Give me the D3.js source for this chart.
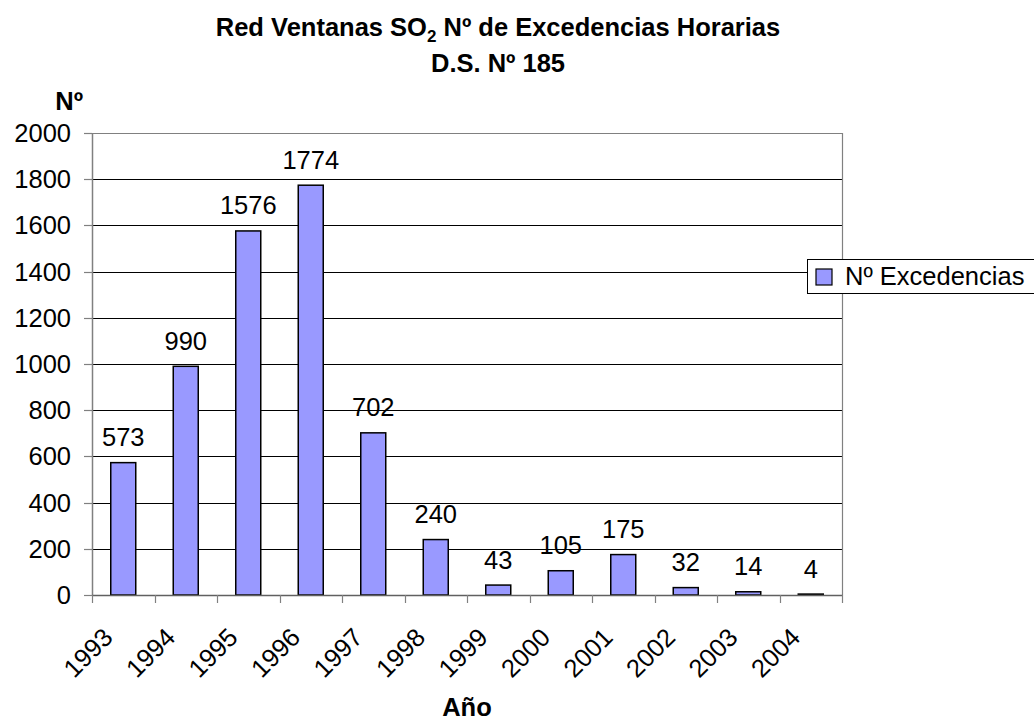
<!DOCTYPE html>
<html>
<head>
<meta charset="utf-8">
<script src="https://cdn.jsdelivr.net/npm/d3@7"></script>
<style>
  body { margin: 0; background: #fff; }
  svg text { font-family: "Liberation Sans", Arial, sans-serif; fill: #000; }
</style>
</head>
<body>
<div id="chart"></div>
<script>
// data
var years = ["1993", "1994", "1995", "1996", "1997", "1998", "1999", "2000", "2001", "2002", "2003", "2004"];
var excedencias = [573, 990, 1576, 1774, 702, 240, 43, 105, 175, 32, 14, 4];
var yTicks = [0, 200, 400, 600, 800, 1000, 1200, 1400, 1600, 1800, 2000];
var seriesName = "Nº Excedencias";

var width = 1034, height = 722;
var margin = {top: 133, right: 192, bottom: 127, left: 92};
var fontSize = 25.5;

var svg = d3.select("#chart").append("svg")
    .attr("width", width)
    .attr("height", height);

var data = years.map(function (y, i) { return {year: y, value: excedencias[i]}; });

var x = d3.scaleBand()
    .domain(years)
    .range([margin.left, width - margin.right])
    .paddingInner(0.6)
    .paddingOuter(0.3);

var y = d3.scaleLinear()
    .domain([0, 2000])
    .range([height - margin.bottom, margin.top]);

var x0 = margin.left, x1 = width - margin.right;
var yBottom = y(0), yTop = y(2000);

// gridlines
svg.append("g")
    .selectAll("line")
    .data(yTicks.filter(function (d) { return d > 0; }))
    .enter()
    .append("line")
    .attr("x1", x0)
    .attr("x2", x1)
    .attr("y1", function (d) { return Math.round(y(d)) + 0.5; })
    .attr("y2", function (d) { return Math.round(y(d)) + 0.5; })
    .attr("stroke", "#000")
    .attr("stroke-width", 1);

// plot border (top/right gray)
svg.append("path")
    .attr("d", "M" + x0 + "," + (Math.round(yTop) + 0.5) + "H" + (x1 + 0.5) + "V" + yBottom)
    .attr("fill", "none")
    .attr("stroke", "#808080")
    .attr("stroke-width", 1.2);

// bars
svg.append("g")
    .selectAll("rect")
    .data(data)
    .enter()
    .append("rect")
    .attr("x", function (d) { return x(d.year); })
    .attr("y", function (d) { return y(d.value); })
    .attr("width", x.bandwidth())
    .attr("height", function (d) { return yBottom - y(d.value); })
    .attr("fill", "#9999FF")
    .attr("stroke", "#000")
    .attr("stroke-width", 1.5);

// data labels
svg.append("g")
    .selectAll("text")
    .data(data)
    .enter()
    .append("text")
    .attr("x", function (d) { return x(d.year) + x.bandwidth() / 2; })
    .attr("y", function (d) { return y(d.value) - 16.5; })
    .attr("text-anchor", "middle")
    .style("font-size", fontSize + "px")
    .text(function (d) { return d.value; });

// y axis
var yAxis = svg.append("g");
yAxis.append("line")
    .attr("x1", x0 + 0.5).attr("x2", x0 + 0.5)
    .attr("y1", yTop).attr("y2", yBottom)
    .attr("stroke", "#808080").attr("stroke-width", 1.5);
yAxis.selectAll(".tick")
    .data(yTicks)
    .enter()
    .append("line")
    .attr("x1", x0 - 8).attr("x2", x0)
    .attr("y1", function (d) { return Math.round(y(d)) + 0.5; })
    .attr("y2", function (d) { return Math.round(y(d)) + 0.5; })
    .attr("stroke", "#808080").attr("stroke-width", 1.2);
yAxis.selectAll("text")
    .data(yTicks)
    .enter()
    .append("text")
    .attr("x", x0 - 21)
    .attr("y", function (d) { return y(d) + 9; })
    .attr("text-anchor", "end")
    .style("font-size", fontSize + "px")
    .text(function (d) { return d; });

// x axis
var xAxis = svg.append("g");
xAxis.append("line")
    .attr("x1", x0).attr("x2", x1 + 0.5)
    .attr("y1", Math.round(yBottom) + 0.5).attr("y2", Math.round(yBottom) + 0.5)
    .attr("stroke", "#606060").attr("stroke-width", 1.5);
var bounds = d3.range(years.length + 1).map(function (i) { return x0 + i * x.step(); });
xAxis.selectAll(".tick")
    .data(bounds)
    .enter()
    .append("line")
    .attr("x1", function (d) { return Math.round(d) + 0.5; })
    .attr("x2", function (d) { return Math.round(d) + 0.5; })
    .attr("y1", yBottom).attr("y2", yBottom + 8)
    .attr("stroke", "#808080").attr("stroke-width", 1.2);
xAxis.selectAll("text")
    .data(years)
    .enter()
    .append("text")
    .attr("transform", function (d) {
        return "translate(" + (x(d) + x.bandwidth() / 2 - 9) + "," + (yBottom + 44) + ") rotate(-45)";
    })
    .attr("text-anchor", "end")
    .style("font-size", fontSize + "px")
    .text(function (d) { return d; });

// titles
var title = svg.append("text")
    .attr("x", 498)
    .attr("y", 36)
    .attr("text-anchor", "middle")
    .style("font-size", fontSize + "px")
    .style("font-weight", "bold");
title.append("tspan").text("Red Ventanas SO");
title.append("tspan").attr("dy", 6).style("font-size", "17px").text("2");
title.append("tspan").attr("dy", -6).text(" Nº de Excedencias Horarias");

svg.append("text")
    .attr("x", 498)
    .attr("y", 72)
    .attr("text-anchor", "middle")
    .style("font-size", fontSize + "px")
    .style("font-weight", "bold")
    .text("D.S. Nº 185");

svg.append("text")
    .attr("x", 83)
    .attr("y", 110)
    .attr("text-anchor", "end")
    .style("font-size", fontSize + "px")
    .style("font-weight", "bold")
    .text("Nº");

svg.append("text")
    .attr("x", (x0 + x1) / 2)
    .attr("y", 716)
    .attr("text-anchor", "middle")
    .style("font-size", fontSize + "px")
    .style("font-weight", "bold")
    .text("Año");

// legend
var legend = svg.append("g");
legend.append("rect")
    .attr("x", 807.5).attr("y", 259.5)
    .attr("width", 240).attr("height", 34)
    .attr("fill", "#fff")
    .attr("stroke", "#000").attr("stroke-width", 1);
legend.append("rect")
    .attr("x", 816).attr("y", 269)
    .attr("width", 16).attr("height", 16)
    .attr("fill", "#9999FF")
    .attr("stroke", "#000").attr("stroke-width", 1.2);
legend.append("text")
    .attr("x", 845).attr("y", 285)
    .style("font-size", fontSize + "px")
    .text(seriesName);
</script>
</body>
</html>
